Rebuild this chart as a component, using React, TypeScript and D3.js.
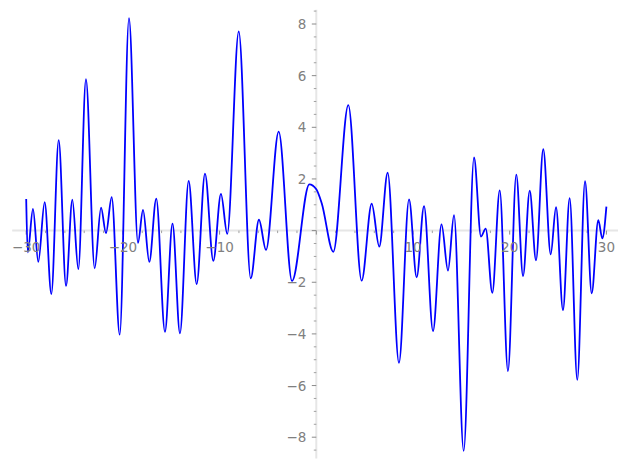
import React from "react";
import * as d3 from "d3";

// Traced points of the curve (x, y)
const xs: number[] = [
  -30, -29.84, -29.3, -28.75, -28.09, -27.4, -26.64, -25.88, -25.23, -24.61,
  -23.82, -22.92, -22.26, -21.75, -21.16, -20.33, -19.37, -18.44, -17.92, -17.27,
  -16.55, -15.65, -14.87, -14.1, -13.2, -12.37, -11.51, -10.65, -9.86, -9.21,
  -8.02, -6.78, -5.93, -5.2, -3.89, -2.51, -0.72, 0, 0.56, 1.76,
  3.31, 4.69, 5.73, 6.51, 7.38, 8.55, 9.59, 10.38, 11.14, 12.07,
  12.95, 13.62, 14.24, 15.24, 16.31, 17.03, 17.52, 18.2, 18.97, 19.82,
  20.68, 21.38, 22.07, 22.72, 23.47, 24.24, 24.79, 25.51, 26.2, 26.99,
  27.79, 28.48, 29.16, 29.58, 30,
];
const ys: number[] = [
  1.22, -0.84, 0.84, -1.21, 1.1, -2.46, 3.5, -2.14, 1.2, -1.49,
  5.86, -1.46, 0.89, -0.1, 1.3, -4.03, 8.23, -0.47, 0.8, -1.21,
  1.24, -3.92, 0.27, -3.98, 1.92, -2.07, 2.21, -1.17, 1.42, -0.13,
  7.71, -1.85, 0.42, -0.75, 3.83, -1.95, 1.79, 1.6, 1.06, -0.82,
  4.86, -1.94, 1.04, -0.62, 2.24, -5.12, 1.21, -1.81, 0.95, -3.89,
  0.24, -1.55, 0.6, -8.53, 2.83, -0.23, 0.08, -2.41, 1.56, -5.44,
  2.17, -1.76, 1.55, -1.15, 3.15, -0.92, 0.91, -3.08, 1.26, -5.78,
  1.91, -2.43, 0.4, -0.3, 0.93,
];

const xMajor: number[] = [-30, -20, -10, 10, 20, 30];
const yMajor: number[] = [-8, -6, -4, -2, 2, 4, 6, 8];
const xAxisExtent: number[] = [-31.45, 31.2];
const yAxisExtent: number[] = [-8.82, 8.55];

const W = 627;
const H = 470;
const FONT = "'DejaVu Sans', sans-serif";
const LABEL = "#808080";
const TICK = "#8a8a8a";

export default function App() {
  const x = d3.scaleLinear().domain([-30, 30]).range([26.2, 606.4]);
  const y = d3.scaleLinear().domain([-8, 8]).range([437.2, 24.0]);
  const pts: [number, number][] = xs.map((v, i) => [v, ys[i]]);
  const line = d3
    .line<[number, number]>()
    .x((d) => x(d[0]))
    .y((d) => y(d[1]))
    .curve(d3.curveMonotoneX);

  const x0 = x(0);
  const y0 = y(0);

  const xMinor: number[] = [];
  for (let v = -30; v <= 30; v += 2) if (v % 10 !== 0) xMinor.push(v);
  const yMinor: number[] = [];
  for (let v = -8.5; v <= 8.5; v += 0.5) if (Math.abs(v % 2) > 1e-9) yMinor.push(v);

  const minus = (v: number) => (v < 0 ? "\u2212" + Math.abs(v) : String(v));

  return (
    <svg
      width={W}
      height={H}
      style={{ position: "absolute", left: 0, top: 0, background: "#fff" }}
    >
      {/* axes lines */}
      <line
        x1={x(xAxisExtent[0])}
        x2={x(xAxisExtent[1])}
        y1={y0}
        y2={y0}
        stroke="#e6e6e6"
        strokeWidth={2}
      />
      <line
        x1={x0}
        x2={x0}
        y1={y(yAxisExtent[0])}
        y2={y(yAxisExtent[1])}
        stroke="#e6e6e6"
        strokeWidth={2}
      />
      {/* x ticks */}
      {xMajor.concat([0]).map((v) => (
        <line key={"xM" + v} x1={x(v)} x2={x(v)} y1={y0} y2={y0 + 4} stroke={TICK} strokeWidth={1} />
      ))}
      {xMinor.map((v) => (
        <line key={"xm" + v} x1={x(v)} x2={x(v)} y1={y0} y2={y0 + 2.5} stroke={TICK} strokeWidth={0.8} />
      ))}
      {/* y ticks */}
      {yMajor.concat([0]).map((v) => (
        <line key={"yM" + v} x1={x0 - 4.5} x2={x0} y1={y(v)} y2={y(v)} stroke={TICK} strokeWidth={1} />
      ))}
      {yMinor.map((v) => (
        <line key={"ym" + v} x1={x0 - 2.5} x2={x0} y1={y(v)} y2={y(v)} stroke={TICK} strokeWidth={0.8} />
      ))}
      {/* curve */}
      <path d={line(pts) || ""} fill="none" stroke="#0000ff" strokeWidth={1.8} strokeLinejoin="round" />
      {/* labels */}
      {xMajor.map((v) => (
        <text
          key={"xl" + v}
          x={x(v)}
          y={y0 + 21}
          textAnchor="middle"
          fontFamily={FONT}
          fontSize={13.5}
          fill={LABEL}
        >
          {minus(v)}
        </text>
      ))}
      {yMajor.map((v) => (
        <text
          key={"yl" + v}
          x={x0 - 10}
          y={y(v) + 5}
          textAnchor="end"
          fontFamily={FONT}
          fontSize={13.5}
          fill={LABEL}
        >
          {minus(v)}
        </text>
      ))}
    </svg>
  );
}
